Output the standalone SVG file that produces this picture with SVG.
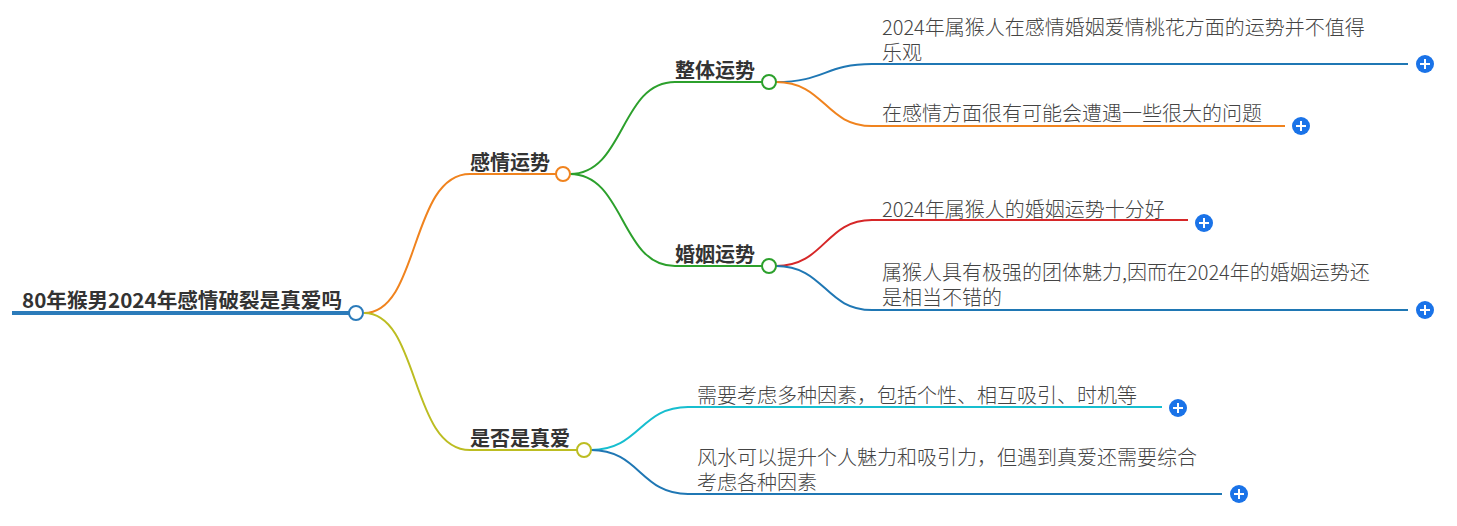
<svg xmlns="http://www.w3.org/2000/svg" width="1457" height="526" viewBox="0 0 1457 526">
<style>
.c{fill:none;stroke-width:2}
.n{fill:#fff;stroke-width:2}
.b{font-family:"Noto Sans CJK SC",sans-serif;font-weight:bold;font-size:20px;fill:#333}
.t{font-family:"Noto Sans CJK SC",sans-serif;font-weight:300;font-size:20px;fill:#444}
.p circle{fill:#1a73e8}
.p path{stroke:#fff;stroke-width:2}
</style>
<rect width="1457" height="526" fill="#fff"/>
<g id="connectors">
<path class="c" stroke="#f0831e" d="M364 313 C420 313 410 174 470 174 L556 174"/>
<path class="c" stroke="#bcbd22" d="M364 313 C420 313 410 450 470 450 L577 450"/>
<path class="c" stroke="#2ca02c" d="M570 174 C625 174 620 82 675 82 L762 82"/>
<path class="c" stroke="#2ca02c" d="M570 174 C625 174 620 266 675 266 L762 266"/>
<path class="c" stroke="#1f77b4" d="M776 82 C825 82 825 64 872 64 L1408 64"/>
<path class="c" stroke="#f0831e" d="M776 82 C825 82 825 126 872 126 L1285 126"/>
<path class="c" stroke="#d62728" d="M776 266 C825 266 825 220 872 220 L1188 220"/>
<path class="c" stroke="#1f77b4" d="M776 266 C825 266 825 310 872 310 L1408 310"/>
<path class="c" stroke="#17becf" d="M591 450 C640 450 640 407 688 407 L1162 407"/>
<path class="c" stroke="#1f77b4" d="M591 450 C640 450 640 494 688 494 L1222 494"/>
</g>
<g id="root">
<line x1="12" y1="313" x2="349" y2="313" stroke="#2b7bba" stroke-width="4"/>
<circle class="n" cx="356" cy="313" r="7" stroke="#2b7bba"/>
<text class="b" x="22" y="308" textLength="320" lengthAdjust="spacingAndGlyphs">80年猴男2024年感情破裂是真爱吗</text>
</g>
<g id="n1"><circle class="n" cx="563" cy="174" r="7" stroke="#f0831e"/><text class="b" x="470" y="170">感情运势</text></g>
<g id="n2"><circle class="n" cx="584" cy="450" r="7" stroke="#bcbd22"/><text class="b" x="470" y="446">是否是真爱</text></g>
<g id="n3"><circle class="n" cx="769" cy="82" r="7" stroke="#2ca02c"/><text class="b" x="675" y="78">整体运势</text></g>
<g id="n4"><circle class="n" cx="769" cy="266" r="7" stroke="#2ca02c"/><text class="b" x="675" y="262">婚姻运势</text></g>
<g id="l1"><text class="t" x="882" y="35">2024年属猴人在感情婚姻爱情桃花方面的运势并不值得</text><text class="t" x="882" y="60">乐观</text>
<g class="p"><circle cx="1425" cy="64" r="9"/><path d="M1420 64h10M1425 59v10"/></g></g>
<g id="l2"><text class="t" x="882" y="121">在感情方面很有可能会遭遇一些很大的问题</text>
<g class="p"><circle cx="1301" cy="126" r="9"/><path d="M1296 126h10M1301 121v10"/></g></g>
<g id="l3"><text class="t" x="882" y="217">2024年属猴人的婚姻运势十分好</text>
<g class="p"><circle cx="1204" cy="223" r="9"/><path d="M1199 223h10M1204 218v10"/></g></g>
<g id="l4"><text class="t" x="882" y="280">属猴人具有极强的团体魅力,因而在2024年的婚姻运势还</text><text class="t" x="882" y="305">是相当不错的</text>
<g class="p"><circle cx="1425" cy="310" r="9"/><path d="M1420 310h10M1425 305v10"/></g></g>
<g id="l5"><text class="t" x="697" y="403">需要考虑多种因素，包括个性、相互吸引、时机等</text>
<g class="p"><circle cx="1178" cy="408" r="9"/><path d="M1173 408h10M1178 403v10"/></g></g>
<g id="l6"><text class="t" x="697" y="465">风水可以提升个人魅力和吸引力，但遇到真爱还需要综合</text><text class="t" x="697" y="490">考虑各种因素</text>
<g class="p"><circle cx="1239" cy="494" r="9"/><path d="M1234 494h10M1239 489v10"/></g></g>
</svg>
